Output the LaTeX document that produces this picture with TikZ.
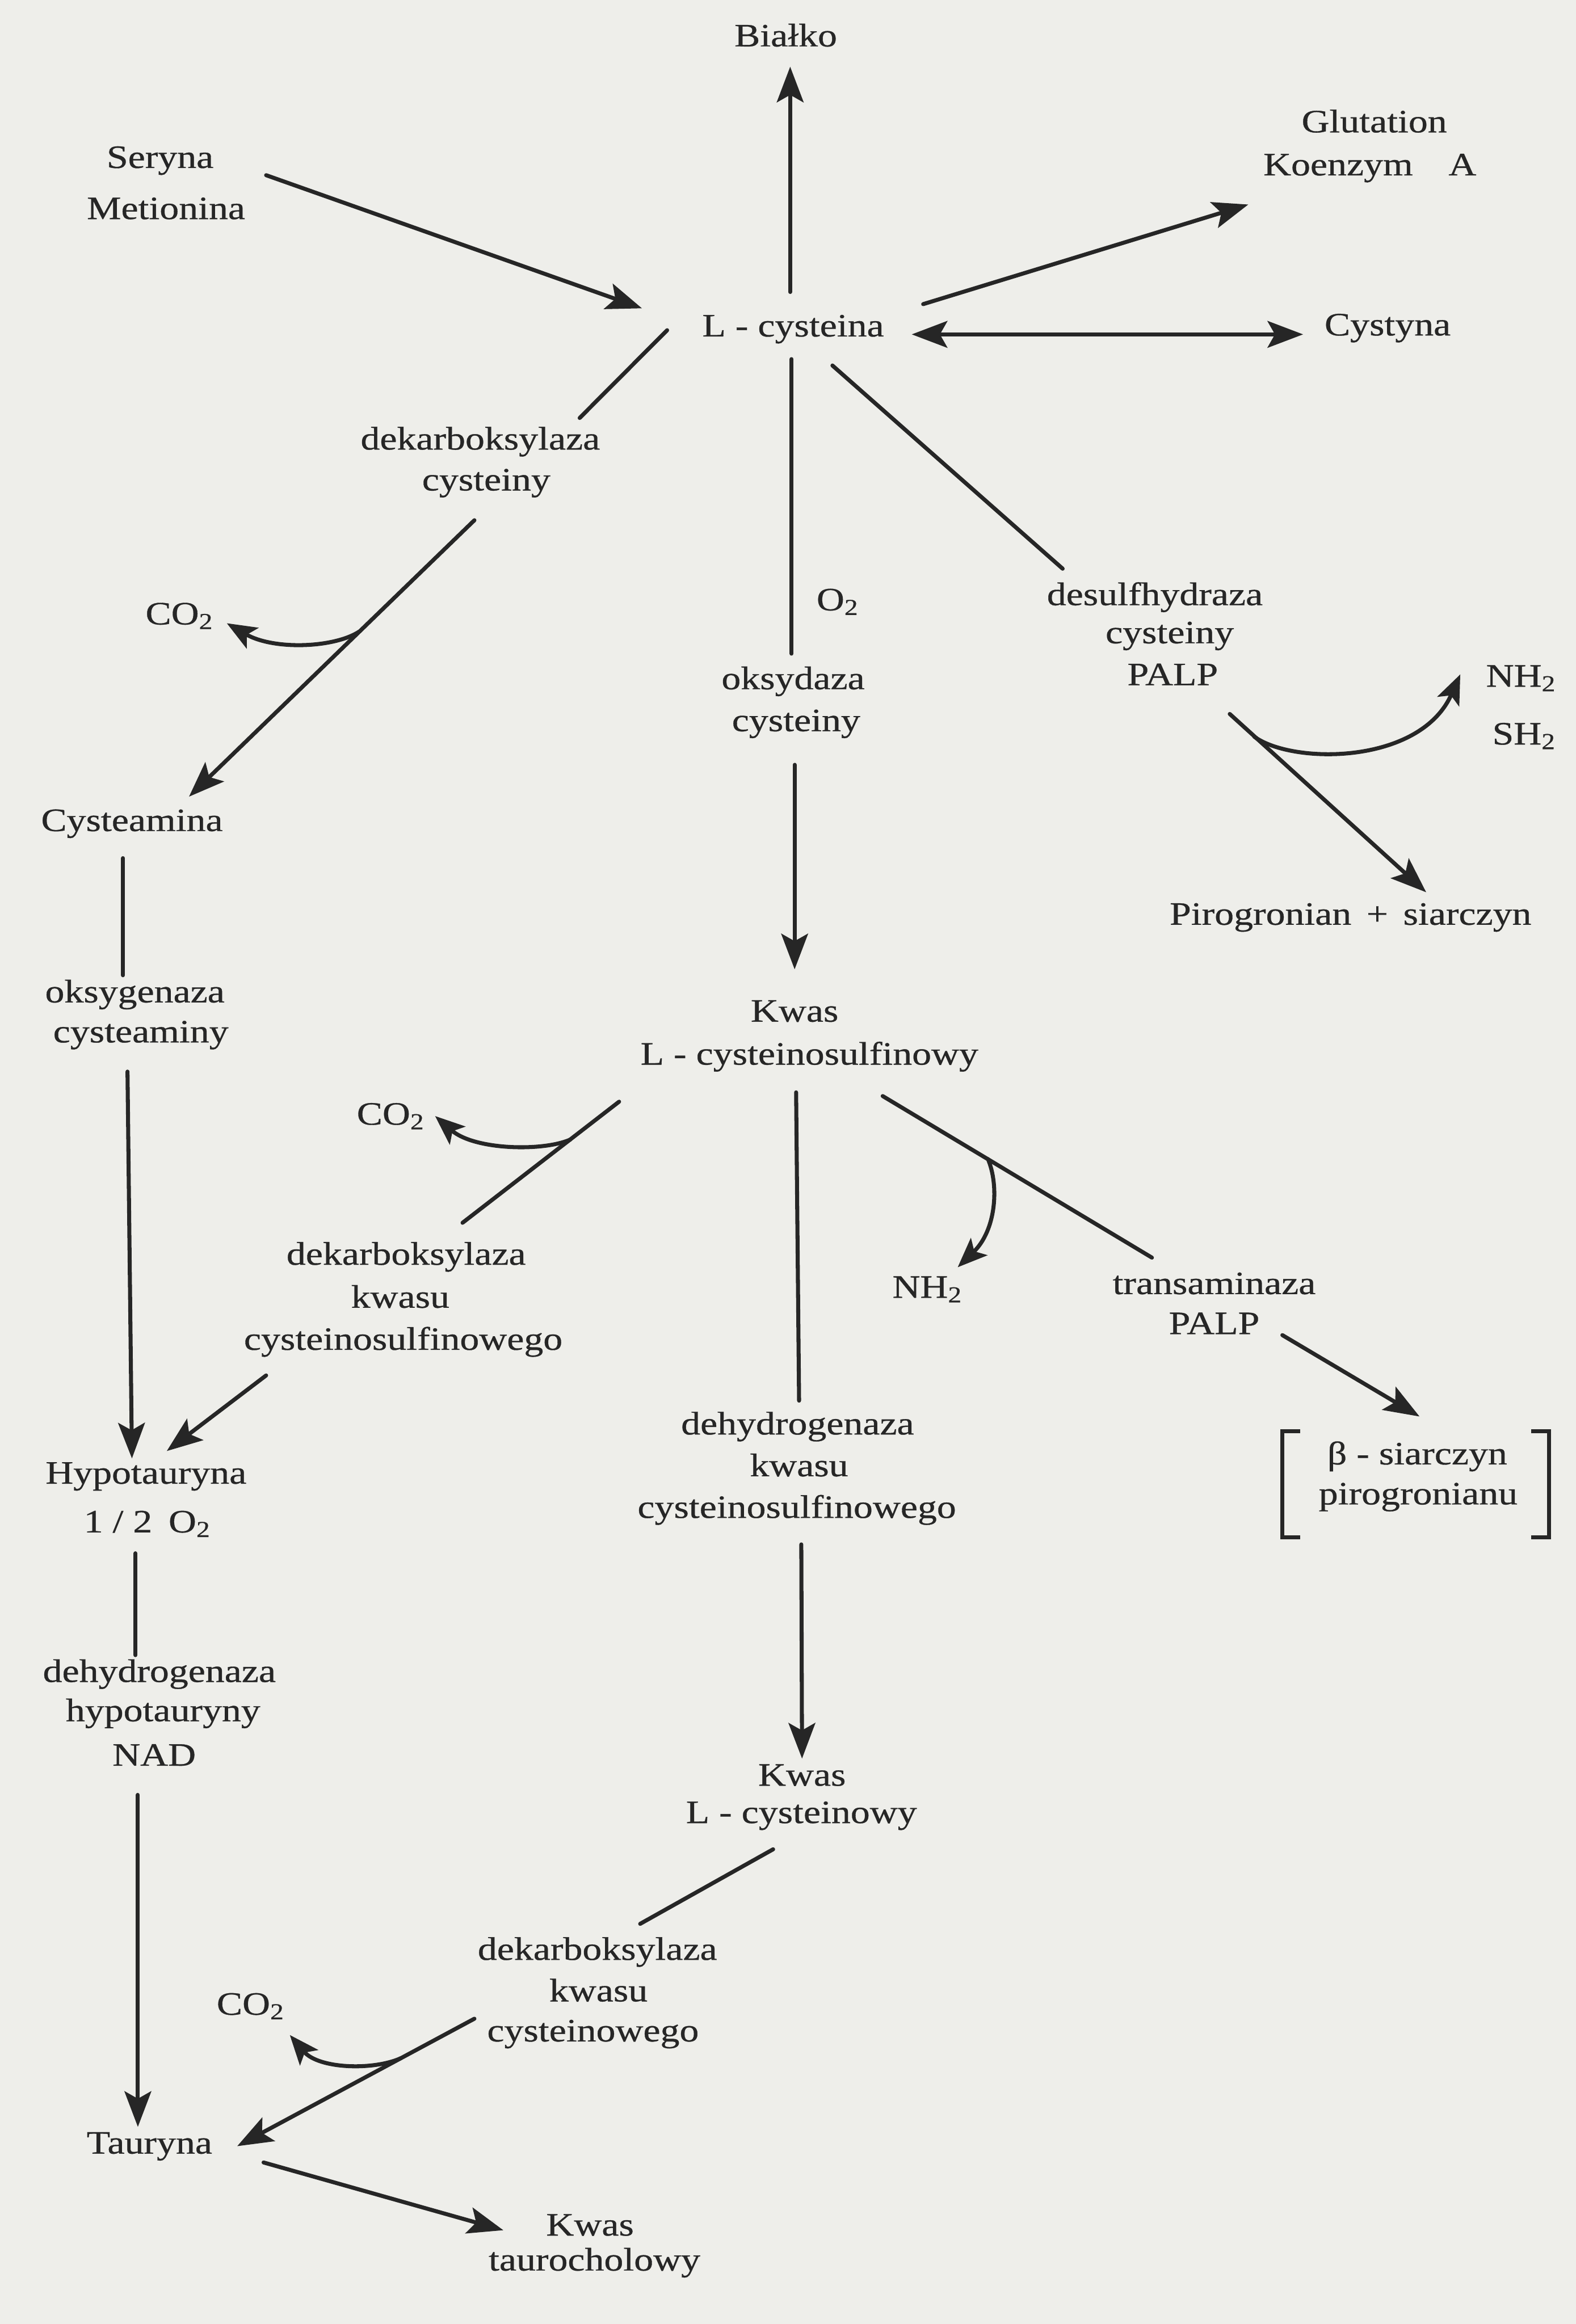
\documentclass[tikz,border=0pt]{standalone}
\usepackage{fontspec}
\setmainfont{Liberation Serif}[FakeStretch=1.18,FakeBold=0.6]
\usetikzlibrary{arrows.meta}
\definecolor{paper}{RGB}{238,238,234}
\definecolor{ink}{RGB}{38,38,38}
\begin{document}
\begin{tikzpicture}[x=1pt,y=-1pt,
  lbl/.style={anchor=mid,inner sep=0pt,text=ink,font=\fontsize{22}{28}\selectfont},
  conn/.style={draw=ink,line width=2.7pt,line cap=round},
  tipbig/.tip={Stealth[length=24pt,width=18pt,inset=5pt]},
  tipsmall/.tip={Stealth[length=20pt,width=16pt,inset=4.5pt]},
  arr/.style={conn,-tipbig},
  darr/.style={conn,tipbig-tipbig},
  carr/.style={conn,-tipsmall},
  brk/.style={draw=ink,line width=2.8pt}
]
\useasboundingbox (0,0) rectangle (1063,1568);
\fill[paper] (0,0) rectangle (1063,1568);

% ---------- labels ----------
\node[lbl] (bialko) at (530,29) {Białko};
\node[lbl] (glut) at (927,87) {Glutation};
\node[lbl] (koenz) at (924,116) {Koenzym\hspace{24pt}A};
\node[lbl] (ser) at (108,111) {Seryna};
\node[lbl] (met) at (112,145.5) {Metionina};
\node[lbl] (lcys) at (535,224.7) {L - cysteina};
\node[lbl] (cyst) at (936,224) {Cystyna};
\node[lbl] (dkA1) at (324,301) {dekarboksylaza};
\node[lbl] (dkA2) at (328,328.6) {cysteiny};
\node[lbl] (co2a) at (121,419) {CO\textsubscript{2}};
\node[lbl] (o2a) at (565,409.5) {O\textsubscript{2}};
\node[lbl] (ds1) at (779,406) {desulfhydraza};
\node[lbl] (ds2) at (789,431.7) {cysteiny};
\node[lbl] (ds3) at (791,460) {PALP};
\node[lbl] (ok1) at (535,462.7) {oksydaza};
\node[lbl] (ok2) at (537,491) {cysteiny};
\node[lbl] (nh2a) at (1026,461) {NH\textsubscript{2}};
\node[lbl] (sh2) at (1028,500) {SH\textsubscript{2}};
\node[lbl] (cystm) at (89,558.4) {Cysteamina};
\node[lbl] (piro) at (911,621.6) {Pirogronian \,+\, siarczyn};
\node[lbl] (og1) at (91,674) {oksygenaza};
\node[lbl] (og2) at (95,701) {cysteaminy};
\node[lbl] (kw1a) at (536,687) {Kwas};
\node[lbl] (kw1b) at (546,716) {L - cysteinosulfinowy};
\node[lbl] (co2b) at (263.5,756.5) {CO\textsubscript{2}};
\node[lbl] (dkB1) at (274,851) {dekarboksylaza};
\node[lbl] (dkB2) at (270,880) {kwasu};
\node[lbl] (dkB3) at (272,908.4) {cysteinosulfinowego};
\node[lbl] (nh2b) at (625.5,873.3) {NH\textsubscript{2}};
\node[lbl] (tr1) at (819,870.8) {transaminaza};
\node[lbl] (tr2) at (819,897.8) {PALP};
\node[lbl] (dh1a) at (538,965.5) {dehydrogenaza};
\node[lbl] (dh1b) at (539,993.7) {kwasu};
\node[lbl] (dh1c) at (537.5,1021.8) {cysteinosulfinowego};
\node[lbl] (bs1) at (956,985.7) {β - siarczyn};
\node[lbl] (bs2) at (956.6,1012.7) {pirogronianu};
\node[lbl] (hyp1) at (98.5,998.7) {Hypotauryna};
\node[lbl] (hyp2) at (99.3,1031.6) {1 / 2\enspace O\textsubscript{2}};
\node[lbl] (dh2a) at (107.5,1132.5) {dehydrogenaza};
\node[lbl] (dh2b) at (110,1159) {hypotauryny};
\node[lbl] (dh2c) at (104,1189) {NAD};
\node[lbl] (kw2a) at (541,1202.5) {Kwas};
\node[lbl] (kw2b) at (540.6,1227.7) {L - cysteinowy};
\node[lbl] (dkC1) at (403,1320) {dekarboksylaza};
\node[lbl] (dkC2) at (403.7,1348) {kwasu};
\node[lbl] (dkC3) at (400,1375) {cysteinowego};
\node[lbl] (co2c) at (169,1357) {CO\textsubscript{2}};
\node[lbl] (taur) at (100.8,1450.7) {Tauryna};
\node[lbl] (kt1) at (398,1506) {Kwas};
\node[lbl] (kt2) at (401,1529.6) {taurocholowy};

% ---------- connector end points ----------
\coordinate (lcysN) at (533,197);
\coordinate (bialkoS) at (533,45);
\coordinate (serE) at (179.5,118.2);
\coordinate (lcysW) at (433,208);
\coordinate (lcysNE) at (622.7,205.2);
\coordinate (glutSW) at (842,138);
\coordinate (lcysE) at (615,225.6);
\coordinate (cystW) at (879,225.6);
\coordinate (lcysSW) at (450,222.8);
\coordinate (dkA1NE) at (391,282);
\coordinate (dkA2S) at (320,351);
\coordinate (cystmN) at (127.5,537.5);
\coordinate (dkAbr) at (242.5,426);
\coordinate (co2aE) at (153,420.5);
\coordinate (lcysSE) at (561.5,246.6);
\coordinate (ds1NW) at (716.8,383.7);
\coordinate (ds3SE) at (829.5,481.7);
\coordinate (piroN) at (962,602);
\coordinate (dsbr) at (846,497);
\coordinate (nh2aSW) at (985,455);
\coordinate (lcysS) at (534,242.3);
\coordinate (ok1N) at (534,441);
\coordinate (ok2S) at (536,516);
\coordinate (kw1N) at (536,654);
\coordinate (cystmS) at (83,579);
\coordinate (og1N) at (83,658);
\coordinate (og2S) at (86,723);
\coordinate (hypN) at (89,984);
\coordinate (kw1SW) at (417.6,743.3);
\coordinate (dkB1NE) at (312,825);
\coordinate (dkBbr) at (384.6,768.9);
\coordinate (co2bE) at (293.5,753);
\coordinate (dkB3SW) at (179.5,928);
\coordinate (hypNE) at (112.5,979);
\coordinate (kw1S) at (537,737);
\coordinate (dh1N) at (539,945);
\coordinate (kw1SE) at (595.4,739.5);
\coordinate (tr1NW) at (777,848.5);
\coordinate (trbr) at (666.4,782);
\coordinate (nh2bN) at (646,855);
\coordinate (tr2SE) at (865,900.8);
\coordinate (bsNW) at (957.5,955.7);
\coordinate (dh1S) at (540.5,1042);
\coordinate (kw2N) at (541,1186.5);
\coordinate (hypS) at (91.4,1048);
\coordinate (dh2N) at (91.4,1116.7);
\coordinate (dh2S) at (93,1211);
\coordinate (taurN) at (93,1435);
\coordinate (kw2SW) at (521.5,1247.7);
\coordinate (dkC1NE) at (431.8,1298);
\coordinate (dkC3W) at (320,1362);
\coordinate (taurE) at (160,1448);
\coordinate (dkCbr) at (270.5,1388.6);
\coordinate (co2cE) at (195.5,1373);
\coordinate (taurSE) at (177.8,1459);
\coordinate (ktW) at (339.5,1504.7);

% ---------- connectors ----------
\draw[arr] (lcysN) -- (bialkoS);
\draw[arr] (serE) -- (lcysW);
\draw[arr] (lcysNE) -- (glutSW);
\draw[darr] (lcysE) -- (cystW);

\draw[conn] (lcysSW) -- (dkA1NE);
\draw[arr] (dkA2S) -- (cystmN);
\draw[carr] (dkAbr) .. controls (226,437) and (185,439) .. (co2aE);

\draw[conn] (lcysSE) -- (ds1NW);
\draw[arr] (ds3SE) -- (piroN);
\draw[carr] (dsbr) .. controls (872,516) and (958,516) .. (nh2aSW);

\draw[conn] (lcysS) -- (ok1N);
\draw[arr] (ok2S) -- (kw1N);

\draw[conn] (cystmS) -- (og1N);
\draw[arr] (og2S) -- (hypN);

\draw[conn] (kw1SW) -- (dkB1NE);
\draw[carr] (dkBbr) .. controls (366,777) and (320,776) .. (co2bE);
\draw[arr] (dkB3SW) -- (hypNE);

\draw[conn] (kw1S) -- (dh1N);
\draw[arr] (dh1S) -- (kw2N);

\draw[conn] (kw1SE) -- (tr1NW);
\draw[carr] (trbr) .. controls (674,800) and (672,830) .. (nh2bN);
\draw[arr] (tr2SE) -- (bsNW);

\draw[brk] (877,965.7) -- (865,965.7) -- (865,1037.3) -- (877,1037.3);
\draw[brk] (1033,965.7) -- (1045,965.7) -- (1045,1037.3) -- (1033,1037.3);

\draw[conn] (hypS) -- (dh2N);
\draw[arr] (dh2S) -- (taurN);

\draw[conn] (kw2SW) -- (dkC1NE);
\draw[arr] (dkC3W) -- (taurE);
\draw[carr] (dkCbr) .. controls (252,1397) and (215,1396) .. (co2cE);
\draw[arr] (taurSE) -- (ktW);
\end{tikzpicture}
\end{document}
